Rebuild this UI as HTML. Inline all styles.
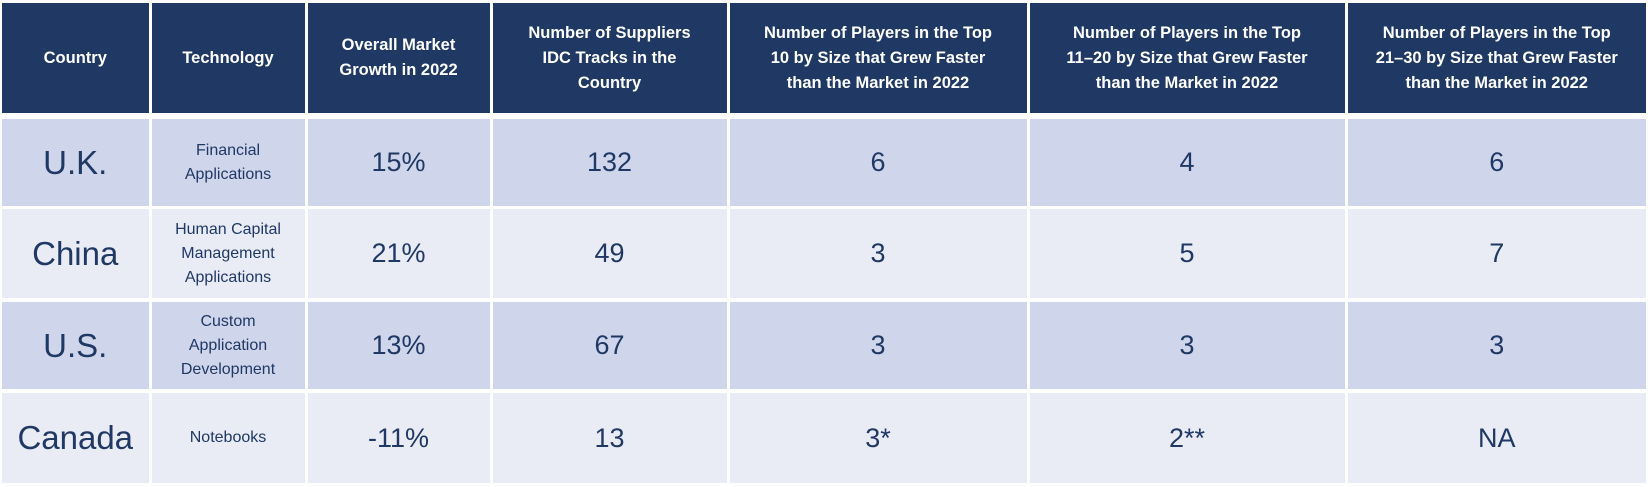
<!DOCTYPE html>
<html><head><meta charset="utf-8"><style>
body{margin:0;width:1651px;height:487px;background:#fff;overflow:hidden;font-family:"Liberation Sans",sans-serif;}
.c{position:absolute;display:flex;align-items:center;justify-content:center;text-align:center;color:#1f3864;box-sizing:border-box;}
.h{background:#1f3864;color:#fff;font-weight:bold;font-size:16.5px;line-height:25px;}
.o{background:#cfd5ea}.e{background:#e9ebf5}
.k{font-size:33px}.t{font-size:16px;line-height:24px}.n{font-size:27px}
</style></head><body>
<div id="t"></div>
<script>
var X=[2,150,306,491,728,1028,1346,1646];
var R=[[3,113],[119,206],[209,298],[302,389],[393,483]];
var H=["Country","Technology","Overall Market<br>Growth in 2022","Number of Suppliers<br>IDC Tracks in the<br>Country","Number of Players in the Top<br>10 by Size that Grew Faster<br>than the Market in 2022","Number of Players in the Top<br>11–20 by Size that Grew Faster<br>than the Market in 2022","Number of Players in the Top<br>21–30 by Size that Grew Faster<br>than the Market in 2022"];
var D=[["U.K.","Financial<br>Applications","15%","132","6","4","6"],
["China","Human Capital<br>Management<br>Applications","21%","49","3","5","7"],
["U.S.","Custom<br>Application<br>Development","13%","67","3","3","3"],
["Canada","Notebooks","-11%","13","3*","2**","NA"]];
var s="";
for(var r=0;r<5;r++)for(var c=0;c<7;c++){
var x0=X[c]+(c?1.5:0),x1=X[c+1]-(c<6?1.5:0);
var cls=r==0?"h":((r%2?"o":"e")+" "+(c==0?"k":c==1?"t":"n"));
var txt=r==0?H[c]:D[r-1][c];
s+='<div class="c '+cls+'" style="left:'+x0+'px;top:'+R[r][0]+'px;width:'+(x1-x0)+'px;height:'+(R[r][1]-R[r][0])+'px">'+txt+'</div>';}
document.getElementById("t").innerHTML=s;
</script>
</body></html>
